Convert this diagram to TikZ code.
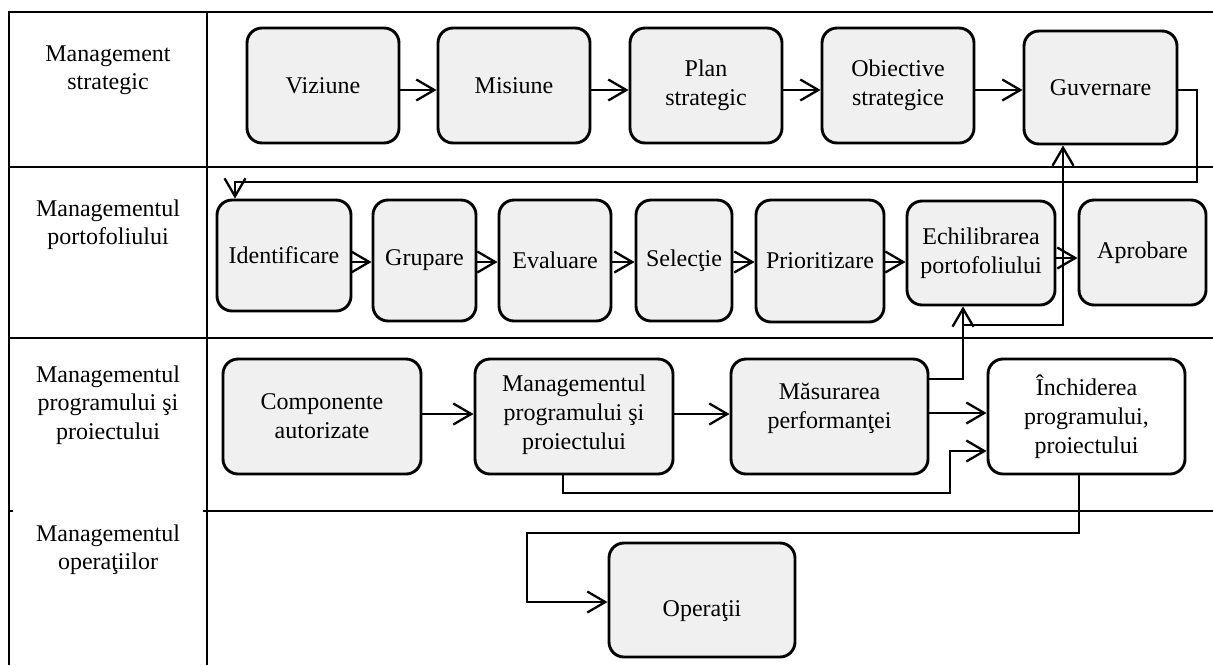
\documentclass[tikz,border=0pt]{standalone}
\usepackage{fontspec}
\setmainfont{Liberation Serif}
\usetikzlibrary{arrows.meta}
\definecolor{boxfill}{RGB}{240,240,240}
\begin{document}
\begin{tikzpicture}[x=0.5pt,y=-0.5pt,
  every node/.style={font=\fontsize{12}{14.4}\selectfont},
  stage/.style={draw=black, line width=1.45pt, rounded corners=7.5pt, fill=boxfill, align=center, inner sep=2pt},
  lane/.style={line width=1.1pt},
  flow/.style={line width=1.15pt, -{Straight Barb[length=9pt,width=10.5pt]}},
  lanelabel/.style={align=center, anchor=north, inner sep=0pt}]
\useasboundingbox (0,0) rectangle (1213,665);

% swimlane grid
\draw[lane] (1213,12) -- (9,12) -- (9,665);
\draw[lane] (207,12) -- (207,665);
\draw[lane] (9,167) -- (1213,167);
\draw[lane] (9,338) -- (1213,338);
\draw[lane] (207,511) -- (1213,511);
\draw[lane] (9,511) -- (13,511);
\draw[lane] (203,511) -- (207,511);

% lane titles
\node[lanelabel] (l1) at (108,45) {Management\\strategic};
\node[lanelabel] (l2) at (108,199) {Managementul\\portofoliului};
\node[lanelabel] (l3) at (108,365) {Managementul\\programului şi\\proiectului};
\node[lanelabel] (l4) at (108,524) {Managementul\\operaţiilor};

% strategic level
\node[stage, minimum width=76pt, minimum height=57.5pt] (viz) at (323,85.5) {Viziune};
\node[stage, minimum width=76pt, minimum height=57.5pt] (mis) at (514,85.5) {Misiune};
\node[stage, minimum width=76pt, minimum height=57.5pt] (plan) at (706,85.5) {Plan\\strategic};
\node[stage, minimum width=76pt, minimum height=57.5pt] (obj) at (898,85.5) {Obiective\\strategice};
\node[stage, minimum width=76.5pt, minimum height=56.5pt] (guv) at (1100.5,87.5) {Guvernare};

% portfolio level
\node[stage, minimum width=67pt, minimum height=55.5pt] (ident) at (284,255.5) {Identificare};
\node[stage, minimum width=51.5pt, minimum height=60.5pt] (grup) at (424.5,260.5) {Grupare};
\node[stage, minimum width=56pt, minimum height=60.5pt] (eval) at (555,260.5) {Evaluare};
\node[stage, minimum width=48pt, minimum height=60.5pt] (sel) at (684,260.5) {Selecţie};
\node[stage, minimum width=64pt, minimum height=61pt] (prio) at (820,261) {Prioritizare};
\node[stage, minimum width=74pt, minimum height=52pt] (echi) at (981,253) {Echilibrarea\\portofoliului};
\node[stage, minimum width=63.5pt, minimum height=52.5pt] (aprob) at (1142.5,252.5) {Aprobare};

% program and project level
\node[stage, minimum width=99pt, minimum height=57.5pt] (comp) at (322,416.5) {Componente\\autorizate};
\node[stage, minimum width=99pt, minimum height=57.5pt, text depth=4.5pt] (mpp) at (574,416.5) {Managementul\\programului şi\\proiectului};
\node[stage, minimum width=98.5pt, minimum height=57.5pt] (mas) at (829.5,416.5) {Măsurarea\\performanţei\\[-4pt]\mbox{}};
\node[stage, fill=white, minimum width=98.5pt, minimum height=57.5pt] (inch) at (1086.5,416.5) {Închiderea\\programului,\\proiectului};

% operations level
\node[stage, minimum width=93pt, minimum height=57pt, text height=19pt, text depth=2.5pt] (oper) at (702,600) {Operaţii};

% strategic chain
\draw[flow] (viz.east |- 0,90) -- (mis.west |- 0,90);
\draw[flow] (mis.east |- 0,90) -- (plan.west |- 0,90);
\draw[flow] (plan.east |- 0,90) -- (obj.west |- 0,90);
\draw[flow] (obj.east |- 0,90) -- (guv.west |- 0,90);
\draw[flow] (guv.east |- 0,90) -| (1197,182) -| (ident.north -| 235,0);

% portfolio chain
\draw[flow] (ident.east |- 0,262) -- (grup.west |- 0,262);
\draw[flow] (grup.east |- 0,262) -- (eval.west |- 0,262);
\draw[flow] (eval.east |- 0,262) -- (sel.west |- 0,262);
\draw[flow] (sel.east |- 0,262) -- (prio.west |- 0,262);
\draw[flow] (prio.east |- 0,262) -- (echi.west |- 0,262);
\draw[flow] (echi.east |- 0,258) -- (aprob.west |- 0,258);

% performance feedback
\coordinate (split) at (963,325);
\draw[flow] (mas.east |- 0,379) -| (echi.south -| 963,0);
\draw[flow] (split) -| (guv.south -| 1063,0);

% program and project chain
\draw[flow] (comp.east |- 0,414) -- (mpp.west |- 0,414);
\draw[flow] (mpp.east |- 0,414) -- (mas.west |- 0,414);
\draw[flow] (mas.east |- 0,413) -- (inch.west |- 0,413);
\draw[flow] (mpp.south -| 563,0) |- (950,493) |- (inch.west |- 0,451);
\draw[flow] (inch.south -| 1079,0) |- (527,533) |- (oper.west |- 0,602);
\end{tikzpicture}
\end{document}
